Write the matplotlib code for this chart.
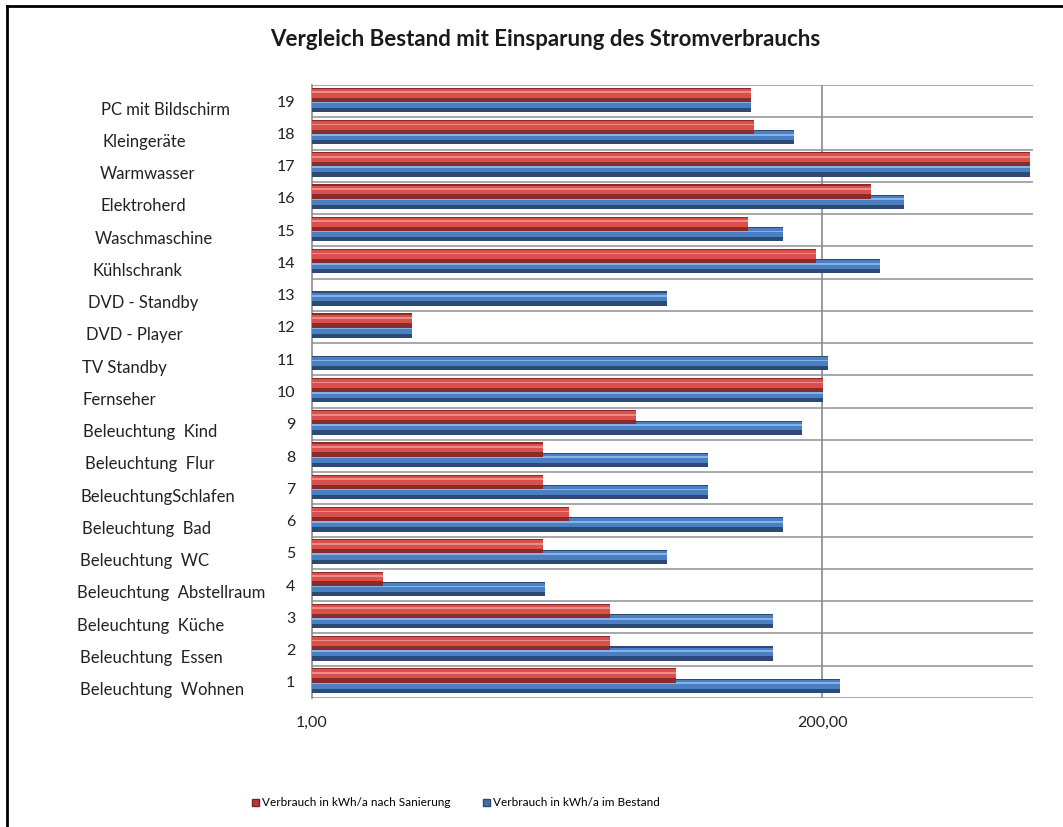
import numpy as np
import matplotlib
matplotlib.use("Agg")
from matplotlib import pyplot as plt
from matplotlib.lines import Line2D
from matplotlib.patches import Patch
from matplotlib.ticker import NullLocator
from matplotlib.transforms import blended_transform_factory

plt.rcParams['font.family'] = ['Lato', 'DejaVu Sans']

# Zeilen von unten (1) nach oben (19)
nummern = list(range(1, 20))
namen = ["Beleuchtung  Wohnen", "Beleuchtung  Essen", "Beleuchtung  Küche",
         "Beleuchtung  Abstellraum", "Beleuchtung  WC", "Beleuchtung  Bad",
         "BeleuchtungSchlafen", "Beleuchtung  Flur", "Beleuchtung  Kind",
         "Fernseher", "TV Standby", "DVD - Player", "DVD - Standby",
         "Kühlschrank", "Waschmaschine", "Elektroherd", "Warmwasser",
         "Kleingeräte", "PC mit Bildschirm"]
# Verbrauch in kWh/a nach Sanierung
saniert = [44, 22, 22, 2.1, 11, 14.5, 11, 11, 29, 203,
           0, 2.84, 0, 187, 93, 332, 1730, 99, 96]
# Verbrauch in kWh/a im Bestand
bestand = [240, 120, 120, 11.2, 40, 134, 61, 61, 162, 203,
           212, 2.84, 40, 365, 134, 469, 1730, 150, 96]
xticks = [1, 200]
xlabels = ["1,00", "200,00"]

# Einrueckung der Namen (Pixel), wie im Original leicht versetzt
namen_x = [80, 80, 77, 77, 80, 82, 80, 85, 83, 83, 82, 86, 88, 93, 95, 100, 100, 103, 101]

W, H = 1063, 827
fig = plt.figure(figsize=(W / 100, H / 100), dpi=100)
ax = fig.add_axes([312 / W, 1 - 698 / H, (1033 - 312) / W, (698 - 85) / H])

y = np.array(nummern, dtype=float)


def balken(werte, unten, hoehe, dunkel, farbe, hell):
    v = np.array(werte, dtype=float)
    breite = np.where(v > 0, v - 1, np.nan)
    # 3D-Optik: dunkle Basis, Hauptfarbe, heller Streifen
    ax.barh(unten, breite, left=1, height=hoehe, align='edge', color=dunkel, zorder=3)
    ax.barh(unten + hoehe * 0.3, breite, left=1, height=hoehe * 0.62, align='edge',
            color=farbe, zorder=3)
    ax.barh(unten + hoehe * 0.62, breite, left=1, height=hoehe * 0.12, align='edge',
            color=hell, zorder=3)


balken(bestand, y - 0.34, 0.44, "#2c4a75", "#4a7fc1", "#86b2e6")
balken(saniert, y - 0.02, 0.44, "#8a2a2a", "#d9504c", "#f08a86")

ax.set_xscale('log')
ax.set_xlim(1, 1790)
ax.set_ylim(0.5, 19.5)
ax.set_xticks(xticks)
ax.set_xticklabels(xlabels)
ax.xaxis.set_minor_locator(NullLocator())
ax.set_yticks(nummern)
ax.set_yticklabels([str(n) for n in nummern])
ax.tick_params(axis='both', length=0, labelsize=11.5, colors='#222222')
ax.tick_params(axis='x', pad=13)
ax.tick_params(axis='y', pad=12)

for b in np.arange(0.5, 20, 1):
    ax.axhline(b, color='#9a9a9a', lw=1.2, zorder=1)
ax.axvline(200, color='#8a8a8a', lw=1.2, zorder=1)
for s in ['top', 'right', 'bottom']:
    ax.spines[s].set_visible(False)
ax.spines['left'].set_color('#8a8a8a')
ax.spines['left'].set_linewidth(1.2)

tr = blended_transform_factory(fig.transFigure, ax.transData)
for n, name, nx in zip(nummern, namen, namen_x):
    ax.text(nx / W, n - 0.26, name, transform=tr, ha='left', va='center',
            fontsize=12, color='#222222')

fig.text(545 / W, 1 - 40 / H, "Vergleich Bestand mit Einsparung des Stromverbrauchs",
         ha='center', va='center', fontsize=16, fontweight='bold', color='#1a1a1a')

handles = [Patch(facecolor="#b43a3a", edgecolor="#7a2020"),
           Patch(facecolor="#4a6fa8", edgecolor="#2c4a75")]
fig.legend(handles, ["Verbrauch in kWh/a nach Sanierung", "Verbrauch in kWh/a im Bestand"],
           loc='center', bbox_to_anchor=(456 / W, 1 - 803 / H), ncol=2, frameon=False,
           fontsize=8.5, handlelength=0.6, handleheight=0.6, handletextpad=0.2,
           columnspacing=2.8)

# schwarzer Rahmen oben und links
fig.add_artist(Line2D([7 / W, 1], [1 - 6 / H, 1 - 6 / H], transform=fig.transFigure,
                      color='black', lw=2))
fig.add_artist(Line2D([7 / W, 7 / W], [0, 1 - 6 / H], transform=fig.transFigure,
                      color='black', lw=2))

fig.savefig("out.png", dpi=100)
